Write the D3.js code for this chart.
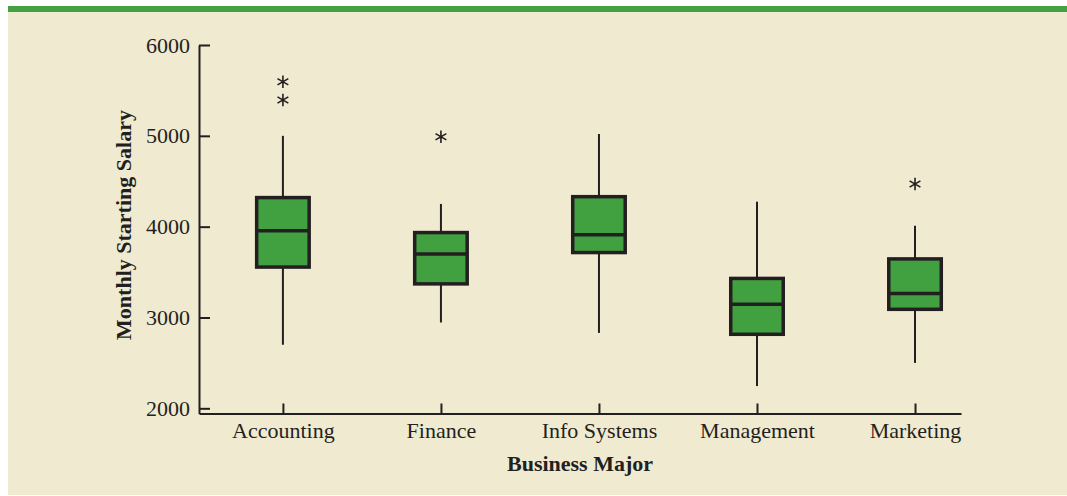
<!DOCTYPE html>
<html>
<head>
<meta charset="utf-8">
<script src="https://cdn.jsdelivr.net/npm/d3@7"></script>
<style>
  html, body { margin: 0; padding: 0; background: #ffffff; }
  svg { display: block; }
  text { font-family: "Liberation Serif", "Times New Roman", serif; fill: #231f20; }
</style>
</head>
<body>
<svg id="chart" width="1067" height="496"></svg>
<script>
// ---- data ----
const categories = ["Accounting", "Finance", "Info Systems", "Management", "Marketing"];
const whiskerLow  = [2700, 2945, 2830, 2245, 2500];
const q1          = [3555, 3370, 3715, 2815, 3090];
const median      = [3955, 3700, 3910, 3145, 3265];
const q3          = [4320, 3935, 4330, 3430, 3645];
const whiskerHigh = [5000, 4250, 5020, 4275, 4010];
const outliers    = [[5595, 5395], [4990], [], [], [4470]];
const yTicks      = [2000, 3000, 4000, 5000, 6000];
const xTitle = "Business Major";
const yTitle = "Monthly Starting Salary";

// ---- layout ----
const W = 1067, H = 496;
const dark = "#231f20", green = "#41a03f", cream = "#f0ead0";
const serif = "'Liberation Serif', 'Times New Roman', serif";
const svg = d3.select("#chart");

svg.append("rect").attr("x", 8).attr("y", 12).attr("width", W - 8).attr("height", 483).attr("fill", cream);
svg.append("rect").attr("x", 8).attr("y", 6).attr("width", W - 8).attr("height", 6).attr("fill", "#43a143");

const plotLeft = 199, plotRight = 961, plotTop = 45, plotBottom = 413.5;

const x = d3.scalePoint().domain(categories).range([plotLeft, plotRight]).padding(0.411).align(0.646);
const y = d3.scaleLinear().domain([1943, 6000]).range([plotBottom, plotTop]);

// y axis
const yAxis = svg.append("g").attr("transform", `translate(${plotLeft},0)`)
  .call(d3.axisLeft(y).tickValues(yTicks).tickFormat(d3.format("d")).tickSize(-11).tickSizeOuter(0).tickPadding(9))
  .attr("font-family", serif).attr("font-size", 22);
yAxis.selectAll("path").attr("stroke", dark).attr("stroke-width", 2);
yAxis.selectAll("line").attr("stroke", dark).attr("stroke-width", 2);
yAxis.selectAll("text").style("font-family", serif).style("font-size", "22px").attr("fill", dark);

// x axis
const xAxis = svg.append("g").attr("transform", `translate(0,${plotBottom})`)
  .call(d3.axisBottom(x).tickSize(-10).tickSizeOuter(0).tickPadding(9))
  .attr("font-family", serif).attr("font-size", 22);
xAxis.selectAll("path").attr("stroke", dark).attr("stroke-width", 2.2);
xAxis.selectAll("line").attr("stroke", dark).attr("stroke-width", 2);
xAxis.selectAll("text").style("font-family", serif).style("font-size", "22px").attr("fill", dark);

// titles
svg.append("text").attr("x", (plotLeft + plotRight) / 2).attr("y", 471).attr("text-anchor", "middle")
  .style("font-family", serif).style("font-size", "22px").style("font-weight", "bold").text(xTitle);
svg.append("text").attr("transform", `translate(131,225) rotate(-90)`).attr("text-anchor", "middle")
  .style("font-family", serif).style("font-size", "22px").style("font-weight", "bold").text(yTitle);

// boxes
const boxW = 52.5;
const stats = categories.map((c, i) => ({ c, lo: whiskerLow[i], q1: q1[i], med: median[i], q3: q3[i], hi: whiskerHigh[i], out: outliers[i] }));
const g = svg.append("g").selectAll("g").data(stats).join("g").attr("transform", d => `translate(${x(d.c)},0)`);

g.append("line").attr("x1", 0).attr("x2", 0).attr("y1", d => y(d.hi)).attr("y2", d => y(d.q3))
  .attr("stroke", dark).attr("stroke-width", 2);
g.append("line").attr("x1", 0).attr("x2", 0).attr("y1", d => y(d.q1)).attr("y2", d => y(d.lo))
  .attr("stroke", dark).attr("stroke-width", 2);
g.append("rect").attr("x", -boxW / 2).attr("width", boxW)
  .attr("y", d => y(d.q3)).attr("height", d => y(d.q1) - y(d.q3))
  .attr("fill", green).attr("stroke", dark).attr("stroke-width", 3.5);
g.append("line").attr("x1", -boxW / 2).attr("x2", boxW / 2).attr("y1", d => y(d.med)).attr("y2", d => y(d.med))
  .attr("stroke", dark).attr("stroke-width", 3.5);

const star = d3.symbol().type(d3.symbolAsterisk).size(110);
g.selectAll("path.out").data(d => d.out).join("path").attr("class", "out")
  .attr("transform", v => `translate(0,${y(v)})`).attr("d", star)
  .attr("fill", "none").attr("stroke", dark).attr("stroke-width", 1.6);
</script>
</body>
</html>
